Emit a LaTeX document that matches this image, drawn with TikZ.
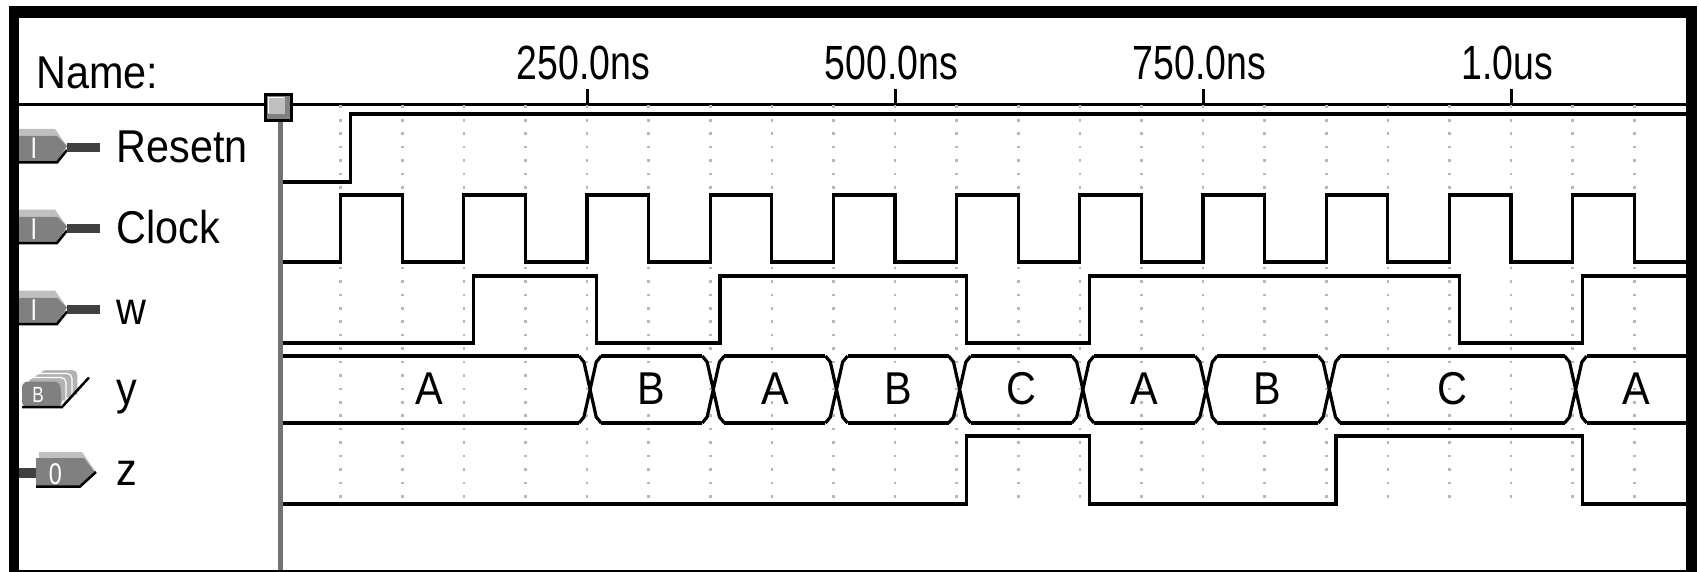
\documentclass[tikz,border=0pt]{standalone}
\usepackage{fontspec}
\setmainfont[FakeStretch=0.9]{Liberation Sans}
\newfontfamily\axisfont[FakeStretch=0.78]{Liberation Sans}
\usetikzlibrary{calc}

% pin symbols, #1 = middle of the row
\newcommand\inpin[2]{%
  \fill[black!25] (19,#1-19) -- (55,#1-19) -- (67,#1-2) -- (57,#1-12) -- (19,#1-12) -- cycle;
  \fill[black!50] (19,#1-12) -- (57,#1-12) -- (67,#1-2) -- (57,#1+14) -- (19,#1+14) -- cycle;
  \draw[line width=2.5pt] (19,#1+14.5) -- (57,#1+14.5) -- (67,#1+2);
  \fill[black!75] (67,#1-4.5) rectangle (100,#1+4.5);
  \node[pinchar] (#2) at (34,#1+11) {I};
}
\newcommand\outpin[2]{%
  \fill[black!75] (19,#1-2) rectangle (37,#1+8);
  \fill[black!25] (39,#1-18) -- (82,#1-18) -- (96,#1+2) -- (84,#1-12) -- (39,#1-12) -- cycle;
  \fill[black!50] (36,#1-12) -- (84,#1-12) -- (96,#1+3) -- (81,#1+17) -- (36,#1+17) -- cycle;
  \draw[line width=2.5pt] (36,#1+16.5) -- (80,#1+16.5) -- (96,#1+2);
  \node[pinchar] (#2) at (55.5,#1+14) {0};
}
\newcommand\buspin[2]{%
  \foreach \s in {3,2,1}
    \filldraw[fill=black!30, draw=white, line width=1.2pt, rounded corners=5pt]
      (22+6*\s,#1+14-3*\s) -- (22+6*\s,#1-8-4*\s) -- (60+6*\s,#1-8-4*\s) -- (60+6*\s,#1+14-3*\s);
  \fill[black!50, rounded corners=6pt] (22,#1+18) -- (22,#1-8) -- (60,#1-8) -- (62,#1+18) -- cycle;
  \draw[line width=2.5pt] (22,#1+17.5) -- (62,#1+17.5) -- (89,#1-12);
  \node[pinchar, font=\axisfont\fontsize{22}{22}\selectfont] (#2) at (38,#1+12.5) {B};
}

\begin{document}
\begin{tikzpicture}[x=1pt,y=-1pt,
  wave/.style={line width=3.2pt},
  griddot/.style={black!28, line width=2.6pt, dash pattern=on 2.6pt off 10.83pt},
  sig/.style={anchor=base west, font=\fontsize{46}{48}\selectfont},
  val/.style={anchor=base, font=\fontsize{46}{48}\selectfont},
  tim/.style={anchor=base, font=\axisfont\fontsize{48}{50}\selectfont},
  pinchar/.style={anchor=base, white, inner sep=0pt, font=\axisfont\fontsize{30}{30}\selectfont}]
\useasboundingbox (0,0) rectangle (1699,572);
\fill[white] (0,0) rectangle (1699,572);

% names
\node[sig] (name) at (33,89) {Name:};
\foreach \n/\r in {Resetn/148, Clock/228.5, w/309.5, y/389.5, z/470}
  \node[sig] (lbl\n) at (113,\r+15) {\n};
\inpin{148}{pinResetn}
\inpin{228.5}{pinClock}
\inpin{309.5}{pinw}
\buspin{389.5}{piny}
\outpin{470}{pinz}

\draw[line width=3pt] (19,104.5) -- (1686,104.5);

% time axis, 1 unit = 1 ns
\begin{scope}[xshift=279pt, x=1.232pt]
  \foreach \t in {50,100,...,1100}
    \draw[griddot] (\t,105.5) -- (\t,500);
  \foreach \t/\l in {250/250.0ns, 500/500.0ns, 750/750.0ns, 1000/1.0us}{
    \draw[line width=3pt] (\t,89) -- (\t,104.5);
    \node[tim] (t\t) at (\t-3,80) {\l};
  }
  % Resetn
  \draw[wave] (0,182) -| (58,114) -- (1142,114);
  % Clock
  \draw[wave] (0,262) \foreach \k in {0,...,10}{ -| ({100*\k+50},195) -| ({100*\k+100},262) } -- (1142,262);
  % w
  \draw[wave] (0,343) -| (158,276) -| (258,343) -| (358,276) -| (558,343) -| (658,276) -| (958,343) -| (1058,276) -- (1142,276);
  % y
  \foreach \a/\b/\v [count=\i] in {-9/252.5/A, 252.5/352.5/B, 352.5/452.5/A, 452.5/552.5/B, 552.5/652.5/C,
      652.5/752.5/A, 752.5/852.5/B, 852.5/1052.5/C, 1052.5/1151/A}{
    \draw[wave] (\a+9,356) -- (\b-9,356) (\a+9,423) -- (\b-9,423);
    \node[val] (y\i) at ({(\a+\b)/2},404) {\v};
  }
  \foreach \c in {252.5,352.5,452.5,552.5,652.5,752.5,852.5,1052.5}
    \draw[wave] (\c-9,356) -- (\c-5,362) -- (\c+5,417) -- (\c+9,423)
                (\c-9,423) -- (\c-5,417) -- (\c+5,362) -- (\c+9,356);
  % z
  \draw[wave] (0,504) -| (558,436) -| (658,504) -| (858,436) -| (1058,504) -- (1142,504);
\end{scope}

% cursor
\fill[black!55] (277.5,118) rectangle (282.5,570);
\filldraw[fill=black!50, draw=black, line width=3pt] (265.5,94.5) rectangle (291.5,120.5);
\fill[black!25] (268,97) rectangle (285,114);
\draw[white, line width=1pt] (268.5,113) -- (268.5,97.5) -- (284,97.5);

% frame
\fill (9,6) rectangle (1697,18);
\fill (9,6) rectangle (19,572);
\fill (1686,6) rectangle (1697,572);
\fill (9,570) rectangle (1697,572);
\end{tikzpicture}
\end{document}
